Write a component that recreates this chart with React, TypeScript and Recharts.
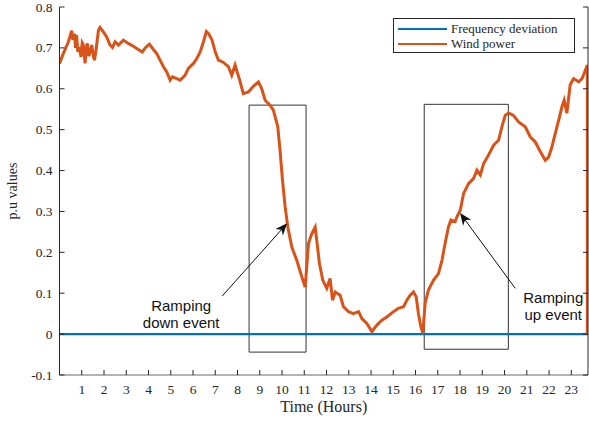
import React from "react";
import {
  LineChart,
  Line,
  XAxis,
  YAxis,
  ReferenceArea,
  ReferenceLine,
  Legend,
} from "recharts";

// wind power trace (p.u.)
const windHours = [
  0.0, 0.17, 0.4, 0.55, 0.6, 0.67, 0.72, 0.77, 0.82, 0.88, 0.97, 1.02, 1.07,
  1.15, 1.2, 1.25, 1.32, 1.37, 1.45, 1.52, 1.57, 1.64, 1.75, 1.82, 1.97, 2.12,
  2.27, 2.38, 2.5, 2.65, 2.87, 3.09, 3.32, 3.54, 3.72, 3.87, 4.04, 4.22, 4.37,
  4.52, 4.67, 4.82, 4.97, 5.07, 5.27, 5.42, 5.64, 5.79, 6.02, 6.17, 6.32, 6.47,
  6.6, 6.7, 6.85, 7.0, 7.14, 7.35, 7.59, 7.74, 7.89, 8.12, 8.26, 8.49, 8.71,
  8.94, 9.09, 9.24, 9.46, 9.61, 9.81, 9.91, 10.02, 10.14, 10.26, 10.44, 10.66,
  10.89, 11.04, 11.19, 11.34, 11.49, 11.56, 11.68, 11.83, 12.01, 12.16, 12.27,
  12.39, 12.61, 12.76, 12.99, 13.21, 13.44, 13.59, 13.81, 14.04, 14.26, 14.49,
  14.71, 15.01, 15.23, 15.46, 15.61, 15.76, 15.91, 16.03, 16.13, 16.24, 16.33,
  16.43, 16.58, 16.81, 17.03, 17.19, 17.33, 17.48, 17.59, 17.78, 17.86, 18.01,
  18.16, 18.38, 18.61, 18.76, 18.91, 19.06, 19.28, 19.51, 19.73, 19.88, 20.03,
  20.18, 20.4, 20.63, 20.93, 21.16, 21.38, 21.61, 21.83, 21.98, 22.13, 22.28,
  22.43, 22.58, 22.68, 22.8, 22.95, 23.1, 23.33, 23.48, 23.6, 23.72, 23.72,
];
const windValues = [
  0.662, 0.686, 0.715, 0.742, 0.72, 0.735, 0.7, 0.731, 0.69, 0.702, 0.678,
  0.712, 0.707, 0.662, 0.7, 0.711, 0.68, 0.69, 0.707, 0.68, 0.67, 0.694, 0.743,
  0.75, 0.739, 0.727, 0.707, 0.701, 0.715, 0.707, 0.719, 0.711, 0.704, 0.696,
  0.69, 0.701, 0.709, 0.696, 0.686, 0.67, 0.654, 0.641, 0.621, 0.629, 0.625,
  0.621, 0.633, 0.65, 0.662, 0.674, 0.69, 0.715, 0.74, 0.735, 0.72, 0.69, 0.67,
  0.665, 0.654, 0.633, 0.658, 0.617, 0.588, 0.592, 0.606, 0.617, 0.6, 0.572,
  0.56, 0.548, 0.507, 0.45, 0.377, 0.311, 0.262, 0.213, 0.181, 0.14, 0.115,
  0.222, 0.246, 0.262, 0.23, 0.173, 0.132, 0.112, 0.136, 0.083, 0.103, 0.095,
  0.067, 0.055, 0.05, 0.055, 0.038, 0.026, 0.006, 0.022, 0.034, 0.042, 0.055,
  0.063, 0.067, 0.083, 0.095, 0.103, 0.091, 0.05, 0.018, 0.002, 0.075, 0.108,
  0.132, 0.148, 0.181, 0.222, 0.262, 0.279, 0.275, 0.287, 0.303, 0.344, 0.368,
  0.381, 0.401, 0.389, 0.417, 0.438, 0.462, 0.474, 0.507, 0.535, 0.541, 0.535,
  0.519, 0.507, 0.482, 0.47, 0.446, 0.425, 0.433, 0.458, 0.491, 0.523, 0.556,
  0.572, 0.54, 0.61, 0.625, 0.617, 0.625, 0.641, 0.658, 0.0,
];

// frequency deviation stays at zero
const freqHours = [0, 6, 12, 18, 23.75];
const freqValues = [0, 0, 0, 0, 0];

const hourTicks = [
  1, 2, 3, 4, 5, 6, 7, 8, 9, 10, 11, 12, 13, 14, 15, 16, 17, 18, 19, 20, 21, 22,
  23,
];
const puTicks = [-0.1, 0, 0.1, 0.2, 0.3, 0.4, 0.5, 0.6, 0.7, 0.8];
const seriesNames = ["Frequency deviation", "Wind power"];

// ramp event boxes and arrows (hours, p.u.)
const rampBoxes = [
  { x1: 8.52, x2: 11.08, y1: -0.044, y2: 0.56 },
  { x1: 16.39, x2: 20.17, y1: -0.037, y2: 0.562 },
];
const rampArrows = [
  { from: [7.31, 0.093], to: [10.23, 0.271], text: ["Ramping", "down event"] },
  { from: [20.48, 0.112], to: [18.0, 0.296], text: ["Ramping", "up event"] },
];

const windData = windHours.map((h, i) => ({ h, v: windValues[i] }));
const freqData = freqHours.map((h, i) => ({ h, v: freqValues[i] }));

const SERIF = "'Liberation Serif', 'Times New Roman', serif";
const SANS = "'Liberation Sans', Arial, sans-serif";
const INK = "#262626";
const BLUE = "#0072BD";
const ORANGE = "#D95319";

const BottomTick = (p: any) => (
  <g>
    <line x1={p.x} y1={p.y} x2={p.x} y2={p.y - 5} stroke={INK} />
    <text
      x={p.x}
      y={p.y + 19}
      textAnchor="middle"
      fontSize={13.5}
      fontFamily={SERIF}
      fill={INK}
    >
      {p.payload.value}
    </text>
  </g>
);

const TopTick = (p: any) => (
  <line x1={p.x} y1={p.y} x2={p.x} y2={p.y + 5} stroke={INK} />
);

const LeftTick = (p: any) => (
  <g>
    <line x1={p.x} y1={p.y} x2={p.x + 5} y2={p.y} stroke={INK} />
    <text
      x={p.x - 7}
      y={p.y + 4.5}
      textAnchor="end"
      fontSize={13.5}
      fontFamily={SERIF}
      fill={INK}
    >
      {String(Number(p.payload.value.toFixed(1)))}
    </text>
  </g>
);

const RightTick = (p: any) => (
  <line x1={p.x} y1={p.y} x2={p.x - 5} y2={p.y} stroke={INK} />
);

const textOffsets = [
  [-41, 15],
  [38, 15],
];

const arrowShape = (idx: number) => (p: any) => {
  const { x1, y1, x2, y2 } = p;
  const dx = x2 - x1;
  const dy = y2 - y1;
  const len = Math.sqrt(dx * dx + dy * dy);
  const ux = dx / len;
  const uy = dy / len;
  const hl = 12;
  const hw = 5;
  const bx = x2 - ux * hl;
  const by = y2 - uy * hl;
  const nx = x2 - ux * (hl - 3.5);
  const ny = y2 - uy * (hl - 3.5);
  const pts = [
    [x2, y2],
    [bx - uy * hw, by + ux * hw],
    [nx, ny],
    [bx + uy * hw, by - ux * hw],
  ]
    .map((q) => q.join(","))
    .join(" ");
  const [ox, oy] = textOffsets[idx];
  return (
    <g>
      <line x1={x1} y1={y1} x2={nx} y2={ny} stroke="#111" strokeWidth={1} />
      <polygon points={pts} fill="#111" />
      {rampArrows[idx].text.map((t, k) => (
        <text
          key={k}
          x={x1 + ox}
          y={y1 + oy + k * 17}
          textAnchor="middle"
          fontSize={15}
          fontFamily={SANS}
          fill="#111"
        >
          {t}
        </text>
      ))}
    </g>
  );
};

const LegendBox = () => (
  <div
    style={{
      width: 180,
      height: 33,
      border: `1px solid ${INK}`,
      background: "#fff",
      fontFamily: SERIF,
      fontSize: 13,
      color: INK,
      boxSizing: "content-box",
    }}
  >
    {seriesNames.map((name, i) => (
      <div
        key={name}
        style={{
          display: "flex",
          alignItems: "center",
          height: 15,
          marginTop: i === 0 ? 2 : 0,
          lineHeight: "15px",
        }}
      >
        <span
          style={{
            display: "inline-block",
            width: 49,
            height: 2,
            marginLeft: 4,
            marginRight: 4,
            background: i === 0 ? BLUE : ORANGE,
          }}
        />
        <span>{name}</span>
      </div>
    ))}
  </div>
);

export default function App() {
  return (
    <div style={{ position: "absolute", left: 0, top: 0, width: 589, height: 421, background: "#fff" }}>
      <LineChart
        width={589}
        height={421}
        margin={{ top: 7, right: 0, bottom: 0, left: 0 }}
      >
        <XAxis
          xAxisId={0}
          type="number"
          dataKey="h"
          domain={[0, 23.75]}
          ticks={hourTicks}
          interval={0}
          allowDataOverflow
          height={46}
          tickSize={0}
          tickMargin={0}
          tickLine={false}
          tick={<BottomTick />}
          axisLine={{ stroke: "#9a9a9a", strokeWidth: 1.5 }}
          label={({ viewBox }: any) => (
            <text
              x={viewBox.x + viewBox.width / 2}
              y={viewBox.y + 37}
              textAnchor="middle"
              fontSize={16}
              fontFamily={SERIF}
              fill={INK}
            >
              Time (Hours)
            </text>
          )}
        />
        <XAxis
          xAxisId="top"
          orientation="top"
          type="number"
          dataKey="h"
          domain={[0, 23.75]}
          ticks={hourTicks}
          interval={0}
          allowDataOverflow
          height={0}
          tickSize={0}
          tickMargin={0}
          tickLine={false}
          tick={<TopTick />}
          axisLine={{ stroke: "#9a9a9a", strokeWidth: 1.5 }}
        />
        <YAxis
          yAxisId={0}
          type="number"
          domain={[-0.1, 0.8]}
          ticks={puTicks}
          interval={0}
          allowDataOverflow
          width={59.5}
          tickSize={0}
          tickMargin={0}
          tickLine={false}
          tick={<LeftTick />}
          axisLine={{ stroke: INK }}
          label={({ viewBox }: any) => {
            const cx = 14;
            const cy = viewBox.y + viewBox.height / 2;
            return (
              <text
                x={cx}
                y={cy}
                transform={`rotate(-90 ${cx} ${cy})`}
                textAnchor="middle"
                dominantBaseline="middle"
                fontSize={14}
                fontFamily={SERIF}
                fill={INK}
              >
                p.u values
              </text>
            );
          }}
        />
        <YAxis
          yAxisId="right"
          orientation="right"
          type="number"
          domain={[-0.1, 0.8]}
          ticks={puTicks}
          interval={0}
          allowDataOverflow
          width={1}
          tickSize={0}
          tickMargin={0}
          tickLine={false}
          tick={<RightTick />}
          axisLine={{ stroke: INK }}
        />

        {rampBoxes.map((b, i) => (
          <ReferenceArea
            key={`box${i}`}
            x1={b.x1}
            x2={b.x2}
            y1={b.y1}
            y2={b.y2}
            fill="none"
            fillOpacity={0}
            stroke="#333"
            strokeWidth={1}
          />
        ))}

        <Line
          data={freqData}
          dataKey="v"
          name={seriesNames[0]}
          type="linear"
          stroke={BLUE}
          strokeWidth={2.2}
          dot={false}
          isAnimationActive={false}
        />
        <Line
          data={windData}
          dataKey="v"
          name={seriesNames[1]}
          type="linear"
          stroke={ORANGE}
          strokeWidth={3}
          dot={false}
          isAnimationActive={false}
        />

        {rampArrows.map((a, i) => (
          <ReferenceLine
            key={`arrow${i}`}
            segment={[
              { x: a.from[0], y: a.from[1] },
              { x: a.to[0], y: a.to[1] },
            ]}
            shape={arrowShape(i)}
            ifOverflow="visible"
          />
        ))}

        <Legend
          layout="vertical"
          align="center"
          verticalAlign="middle"
          wrapperStyle={{ position: "absolute", left: 393, top: 18, width: "auto" }}
          content={() => <LegendBox />}
        />
      </LineChart>
    </div>
  );
}
